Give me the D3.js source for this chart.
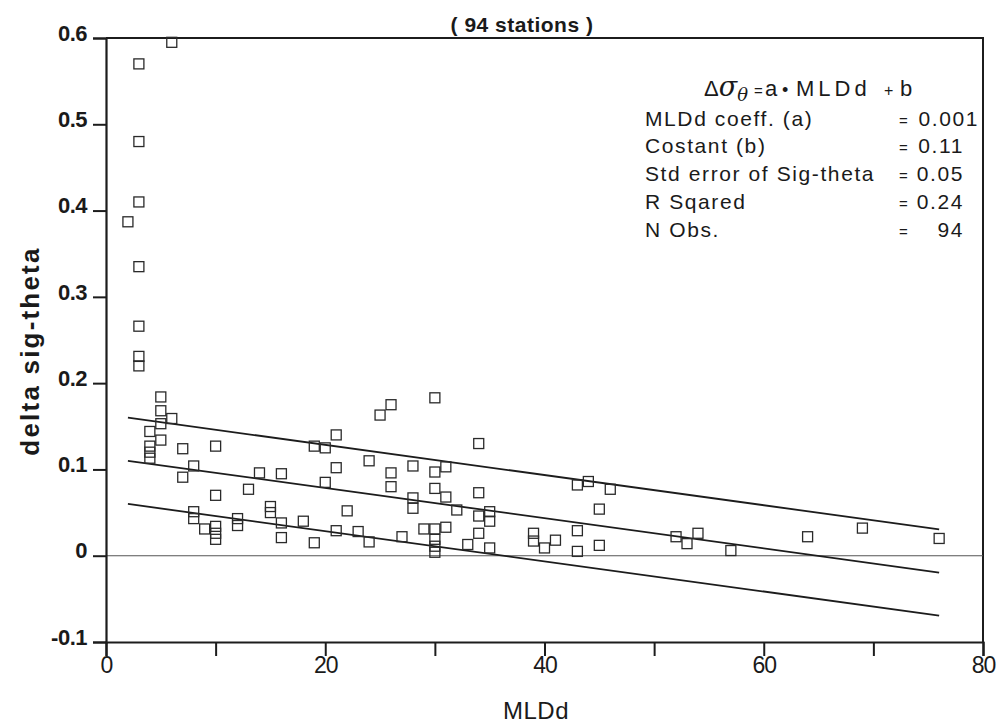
<!DOCTYPE html>
<html>
<head>
<meta charset="utf-8">
<script src="https://cdn.jsdelivr.net/npm/d3@7"></script>
<style>
  html, body { margin: 0; padding: 0; background: #fff; }
  svg { display: block; }
  text { fill: #1a1a1a; }
</style>
</head>
<body>
<svg id="chart" width="1002" height="724"></svg>
<script>
// Mixed-layer depth (MLDd) and delta sig-theta for each station
const mldd = [
  6, 3, 3, 3, 2, 3, 3, 3, 3,
  5, 5, 6, 5, 4, 5, 4, 4, 4, 7, 10, 8, 7, 14, 16, 10, 13,
  8, 8, 9, 10, 10, 10, 12, 12, 15, 15, 16, 16,
  30, 26, 25, 21, 19, 20, 34, 24, 21, 28, 31, 26, 30, 20, 26, 30, 34,
  28, 31, 28, 32, 22, 35, 34, 35, 18, 21, 23, 24, 19, 27, 29, 30, 31,
  30, 30, 30, 33, 34, 35,
  39, 39, 40, 41, 43, 44, 46, 45, 43, 43, 45, 52, 53, 54, 57, 64, 69, 76
];
const deltaSigTheta = [
  0.595, 0.570, 0.480, 0.410, 0.387, 0.335, 0.266, 0.231, 0.220,
  0.184, 0.168, 0.159, 0.153, 0.144, 0.134, 0.127, 0.120, 0.113, 0.124, 0.127, 0.104, 0.091, 0.096, 0.095, 0.070, 0.077,
  0.051, 0.043, 0.031, 0.034, 0.026, 0.019, 0.043, 0.035, 0.057, 0.050, 0.038, 0.021,
  0.183, 0.175, 0.163, 0.140, 0.127, 0.125, 0.130, 0.110, 0.102, 0.104, 0.103, 0.096, 0.097, 0.085, 0.080, 0.078, 0.073,
  0.067, 0.068, 0.055, 0.053, 0.052, 0.051, 0.046, 0.040, 0.040, 0.029, 0.028, 0.016, 0.015, 0.022, 0.031, 0.031, 0.033,
  0.019, 0.011, 0.004, 0.013, 0.026, 0.009,
  0.026, 0.017, 0.009, 0.018, 0.082, 0.086, 0.077, 0.054, 0.029, 0.005, 0.012, 0.022, 0.014, 0.026, 0.006, 0.022, 0.032, 0.020
];

// Regression fit: centre line and +/- one standard error
const fitSlope = -0.00175;
const fitIntercept = 0.1135;
const fitStdError = 0.05;
const fitRange = [2, 76];
const bandOffsets = [fitStdError, 0, -fitStdError];

// Axis ticks
const xTicks = [0, 10, 20, 30, 40, 50, 60, 70, 80];
const xTickLabels = [0, 20, 40, 60, 80];
const yTicks = [-0.1, 0, 0.1, 0.2, 0.3, 0.4, 0.5, 0.6];
const yTickLabels = ["-0.1", "0", "0.1", "0.2", "0.3", "0.4", "0.5", "0.6"];

// Regression summary text
const statLabels = ["MLDd coeff. (a)", "Costant (b)", "Std error of Sig-theta", "R Sqared", "N  Obs."];
const statValues = ["0.001", "0.11", "0.05", "0.24", "94"];

const svg = d3.select("#chart");
const plotLeft = 106, plotRight = 983, plotTop = 38, plotBottom = 642;

const x = d3.scaleLinear().domain([0, 80]).range([plotLeft, plotRight]);
const y = d3.scaleLinear().domain([-0.1, 0.6]).range([plotBottom, plotTop]);

const ink = "#1c1c1c";
const sans = "'Liberation Sans', Arial, Helvetica, sans-serif";

// Frame: top and right borders
svg.append("path")
  .attr("d", `M${plotLeft},${plotTop}H${plotRight}V${plotBottom}`)
  .attr("fill", "none").attr("stroke", ink).attr("stroke-width", 2);

// Zero reference line
svg.append("line")
  .attr("x1", plotLeft).attr("x2", plotRight)
  .attr("y1", y(0)).attr("y2", y(0))
  .attr("stroke", "#555").attr("stroke-width", 1.1);

// Left axis
const yAxis = d3.axisLeft(y).tickValues(yTicks).tickSize(13)
  .tickFormat((d, i) => yTickLabels[i]);
const yg = svg.append("g").attr("transform", `translate(${plotLeft},0)`).call(yAxis);
yg.select(".domain").attr("stroke", ink).attr("stroke-width", 2.2);
yg.selectAll(".tick line").attr("stroke", ink).attr("stroke-width", 2);
yg.selectAll(".tick text")
  .attr("x", -19).attr("dy", "0.1em")
  .style("font-family", sans).style("letter-spacing", "-0.5px")
  .style("font-weight", "bold").style("font-size", "22px").attr("fill", ink);

// Bottom axis
const xAxis = d3.axisBottom(x).tickValues(xTicks).tickSize(14)
  .tickFormat(d => xTickLabels.includes(d) ? d : "");
const xg = svg.append("g").attr("transform", `translate(0,${plotBottom})`).call(xAxis);
xg.select(".domain").attr("stroke", ink).attr("stroke-width", 2.2);
xg.selectAll(".tick line").attr("stroke", ink).attr("stroke-width", 2);
xg.selectAll(".tick text")
  .attr("y", 15)
  .style("font-family", sans).style("letter-spacing", "-1px")
  .style("font-size", "23px").attr("fill", ink);

// Regression lines
svg.append("g").selectAll("line").data(bandOffsets).join("line")
  .attr("x1", x(fitRange[0])).attr("x2", x(fitRange[1]))
  .attr("y1", d => y(fitIntercept + fitSlope * fitRange[0] + d))
  .attr("y2", d => y(fitIntercept + fitSlope * fitRange[1] + d))
  .attr("stroke", ink).attr("stroke-width", 1.8);

// Station markers: open squares
const s = 10;
svg.append("g").selectAll("rect").data(mldd.map((m, i) => [m, deltaSigTheta[i]])).join("rect")
  .attr("x", d => x(d[0]) - s / 2)
  .attr("y", d => y(d[1]) - s / 2)
  .attr("width", s).attr("height", s)
  .attr("fill", "none").attr("stroke", "#2a2a2a").attr("stroke-width", 1.3);

// Titles
svg.append("text")
  .attr("x", 522).attr("y", 32).attr("text-anchor", "middle")
  .style("font-family", sans).style("letter-spacing", "0.5px")
  .style("font-weight", "bold").style("font-size", "21px")
  .text("( 94 stations )");

svg.append("text")
  .attr("transform", "translate(39,351) rotate(-90)").attr("text-anchor", "middle")
  .style("font-family", sans).style("letter-spacing", "2.2px")
  .style("font-weight", "bold").style("font-size", "26px")
  .text("delta sig-theta");

svg.append("text")
  .attr("x", 536).attr("y", 719).attr("text-anchor", "middle")
  .style("font-family", sans).style("letter-spacing", "0.5px")
  .style("font-size", "24px")
  .text("MLDd");

// Regression summary
const ann = svg.append("g")
  .style("font-family", sans).style("font-size", "21px").style("letter-spacing", "1.6px");

// Equation header: Δσθ = a • MLDd + b
const eq = ann.append("text").attr("x", 704).attr("y", 96).style("letter-spacing", "0px");
eq.append("tspan").style("font-size", "22px").text("Δ");
eq.append("tspan").style("font-size", "27px").style("font-style", "italic").attr("font-family", "'DejaVu Serif', serif").text("σ");
eq.append("tspan").style("font-size", "18px").style("font-style", "italic").attr("font-family", "'DejaVu Serif', serif").attr("dy", 5).text("θ");
const eqParts = [
  { t: "=", at: 754, size: 15, ls: 0 },
  { t: "a", at: 765, size: 22, ls: 0 },
  { t: "•", at: 782, size: 18, ls: 0 },
  { t: "MLDd", at: 796, size: 22, ls: 4 },
  { t: "+", at: 884, size: 16, ls: 0 },
  { t: "b", at: 900, size: 22, ls: 0 }
];
ann.selectAll("text.eqp").data(eqParts).join("text").attr("class", "eqp")
  .attr("x", d => d.at).attr("y", 96)
  .style("font-size", d => d.size + "px")
  .style("letter-spacing", d => d.ls + "px")
  .text(d => d.t);

const rowY = [126, 153, 181, 209, 237];
const rowFill = ["#1a1a1a", "#1a1a1a", "#1a1a1a", "#555", "#444"];
ann.selectAll("text.lab").data(statLabels).join("text").attr("class", "lab")
  .attr("x", 645).attr("y", (d, i) => rowY[i]).attr("fill", (d, i) => rowFill[i]).text(d => d);
ann.selectAll("text.eqs").data(statValues).join("text").attr("class", "eqs")
  .attr("x", 899).attr("y", (d, i) => rowY[i])
  .attr("fill", (d, i) => rowFill[i]).style("font-size", "15px").text("=");
ann.selectAll("text.val").data(statValues).join("text").attr("class", "val")
  .attr("x", (d, i) => i === 0 ? 979 : 964).attr("y", (d, i) => rowY[i]).attr("text-anchor", "end")
  .attr("fill", (d, i) => rowFill[i]).text(d => d);
</script>
</body>
</html>
